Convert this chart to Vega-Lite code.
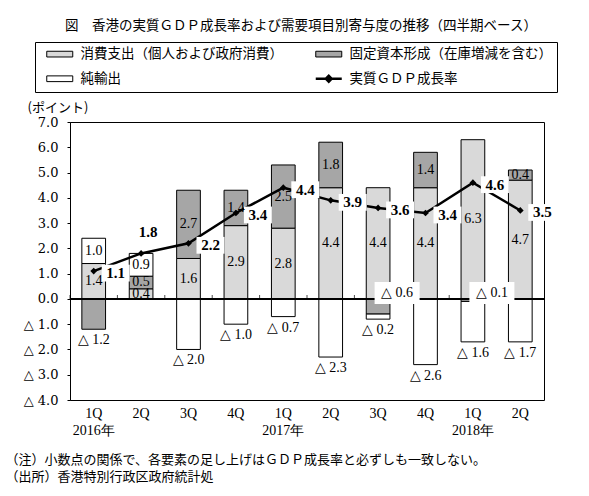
{
  "$schema": "https://vega.github.io/schema/vega-lite/v6.json",
  "width": 474,
  "height": 278,
  "autosize": "none",
  "padding": {"left": 70, "top": 122, "right": 45, "bottom": 96},
  "background": "white",
  "title": {
    "text": "図　香港の実質ＧＤＰ成長率および需要項目別寄与度の推移（四半期ベース）",
    "font": "Noto Sans CJK JP",
    "fontSize": 13.5,
    "fontWeight": "normal",
    "color": "black",
    "anchor": "middle",
    "dx": -6,
    "offset": 9
  },
  "config": {
    "view": {"stroke": "black", "strokeWidth": 1},
    "font": "Liberation Serif",
    "axisY": {
      "labelFont": "DejaVu Serif", "labelFontSize": 13, "labelColor": "black", "labelOverlap": false, "labelLimit": 300,
      "tickSize": 3, "tickColor": "black", "domainColor": "black", "labelPadding": 9, "grid": false
    }
  },
  "datasets": {
    "contrib": [
      {"period": "2016年 1Q", "series": "消費支出（個人および政府消費）", "value": 1.4},
      {"period": "2016年 1Q", "series": "固定資本形成（在庫増減を含む）", "value": -1.2},
      {"period": "2016年 1Q", "series": "純輸出", "value": 1.0},
      {"period": "2016年 2Q", "series": "消費支出（個人および政府消費）", "value": 0.4},
      {"period": "2016年 2Q", "series": "固定資本形成（在庫増減を含む）", "value": 0.5},
      {"period": "2016年 2Q", "series": "純輸出", "value": 0.9},
      {"period": "2016年 3Q", "series": "消費支出（個人および政府消費）", "value": 1.6},
      {"period": "2016年 3Q", "series": "固定資本形成（在庫増減を含む）", "value": 2.7},
      {"period": "2016年 3Q", "series": "純輸出", "value": -2.0},
      {"period": "2016年 4Q", "series": "消費支出（個人および政府消費）", "value": 2.9},
      {"period": "2016年 4Q", "series": "固定資本形成（在庫増減を含む）", "value": 1.4},
      {"period": "2016年 4Q", "series": "純輸出", "value": -1.0},
      {"period": "2017年 1Q", "series": "消費支出（個人および政府消費）", "value": 2.8},
      {"period": "2017年 1Q", "series": "固定資本形成（在庫増減を含む）", "value": 2.5},
      {"period": "2017年 1Q", "series": "純輸出", "value": -0.7},
      {"period": "2017年 2Q", "series": "消費支出（個人および政府消費）", "value": 4.4},
      {"period": "2017年 2Q", "series": "固定資本形成（在庫増減を含む）", "value": 1.8},
      {"period": "2017年 2Q", "series": "純輸出", "value": -2.3},
      {"period": "2017年 3Q", "series": "消費支出（個人および政府消費）", "value": 4.4},
      {"period": "2017年 3Q", "series": "固定資本形成（在庫増減を含む）", "value": -0.6},
      {"period": "2017年 3Q", "series": "純輸出", "value": -0.2},
      {"period": "2017年 4Q", "series": "消費支出（個人および政府消費）", "value": 4.4},
      {"period": "2017年 4Q", "series": "固定資本形成（在庫増減を含む）", "value": 1.4},
      {"period": "2017年 4Q", "series": "純輸出", "value": -2.6},
      {"period": "2018年 1Q", "series": "消費支出（個人および政府消費）", "value": 6.3},
      {"period": "2018年 1Q", "series": "固定資本形成（在庫増減を含む）", "value": -0.1},
      {"period": "2018年 1Q", "series": "純輸出", "value": -1.6},
      {"period": "2018年 2Q", "series": "消費支出（個人および政府消費）", "value": 4.7},
      {"period": "2018年 2Q", "series": "固定資本形成（在庫増減を含む）", "value": 0.4},
      {"period": "2018年 2Q", "series": "純輸出", "value": -1.7}
    ],
    "gdp": [
      {"period": "2016年 1Q", "gdp": 1.1},
      {"period": "2016年 2Q", "gdp": 1.8},
      {"period": "2016年 3Q", "gdp": 2.2},
      {"period": "2016年 4Q", "gdp": 3.4},
      {"period": "2017年 1Q", "gdp": 4.4},
      {"period": "2017年 2Q", "gdp": 3.9},
      {"period": "2017年 3Q", "gdp": 3.6},
      {"period": "2017年 4Q", "gdp": 3.4},
      {"period": "2018年 1Q", "gdp": 4.6},
      {"period": "2018年 2Q", "gdp": 3.5}
    ]
  },
  "layer": [
    {
      "data": {"name": "contrib"},
      "transform": [
        {"calculate": "indexof(['消費支出（個人および政府消費）','固定資本形成（在庫増減を含む）','純輸出'], datum.series)", "as": "ord"},
        {"stack": "value", "groupby": ["period"], "sort": [{"field": "ord", "order": "ascending"}], "as": ["v0", "v1"], "offset": "zero"}
      ],
      "mark": {"type": "bar", "stroke": "black", "strokeWidth": 1},
      "encoding": {
        "x": {
          "field": "period", "type": "nominal",
          "scale": {"domain": ["2016年 1Q","2016年 2Q","2016年 3Q","2016年 4Q","2017年 1Q","2017年 2Q","2017年 3Q","2017年 4Q","2018年 1Q","2018年 2Q"], "paddingInner": 0.5, "paddingOuter": 0.25},
          "axis": {
            "labelExpr": "indexof(datum.value, '1Q') >= 0 ? [slice(datum.value, 6), slice(datum.value, 0, 5)] : slice(datum.value, 6)",
            "labelFont": "Liberation Serif", "labelFontSize": 14, "labelColor": "black",
            "labelPadding": 6, "labelLineHeight": 17, "labelAngle": 0,
            "ticks": false, "domain": false, "grid": false,
            "title": ["（注）小数点の関係で、各要素の足し上げはＧＤＰ成長率と必ずしも一致しない。", "（出所）香港特別行政区政府統計処"],
            "titleFont": "Noto Sans CJK JP", "titleFontSize": 13, "titleFontWeight": "normal", "titleColor": "black",
            "titleAlign": "left", "titleAnchor": "start", "titleX": -65, "titleY": 53, "titleBaseline": "top", "titleLineHeight": 17
          }
        },
        "y": {
          "field": "v0", "type": "quantitative",
          "scale": {"domain": [-4, 7], "nice": false, "zero": false},
          "axis": {
            "title": "(ポイント)", "titleAngle": 0, "titleAlign": "left", "titleX": -43, "titleY": -15, "titleBaseline": "middle",
            "titleFont": "Noto Sans CJK JP", "titleFontSize": 13, "titleFontWeight": "normal", "titleColor": "black",
            "values": [-4, -3, -2, -1, 0, 1, 2, 3, 4, 5, 6, 7],
            "labelExpr": "datum.value < 0 ? '△ ' + format(-datum.value, '.1f') : format(datum.value, '.1f')"
          }
        },
        "y2": {"field": "v1"},
        "fill": {
          "field": "series", "type": "nominal",
          "scale": {"domain": ["消費支出（個人および政府消費）", "固定資本形成（在庫増減を含む）", "純輸出", "実質ＧＤＰ成長率"], "range": ["#d9d9d9", "#a6a6a6", "#ffffff", "#000000"]},
          "legend": {
            "orient": "none", "legendX": -35, "legendY": -80, "direction": "horizontal", "columns": 2,
            "title": null, "labelFont": "Noto Sans CJK JP", "labelFontSize": 13.5, "labelColor": "black",
            "symbolSize": 676, "symbolOffset": 13, "labelOffset": 14, "columnPadding": 26, "rowPadding": 9,
            "padding": 5, "strokeColor": "black", "fillColor": "white", "labelLimit": 400,
            "symbolStrokeColor": "black", "symbolStrokeWidth": 1,
            "encode": {
              "symbols": {
                "update": {
                  "shape": {"signal": "datum.value === '実質ＧＤＰ成長率' ? 'M-1,0H1M-0.22,0L0,-0.22L0.22,0L0,0.22Z' : 'M-1,-0.22H1V0.22H-1Z'"},
                  "strokeWidth": {"signal": "datum.value === '実質ＧＤＰ成長率' ? 2.5 : 1"},
                  "stroke": {"value": "black"}
                }
              }
            }
          }
        }
      }
    },
    {
      "data": {"name": "gdp"},
      "mark": {"type": "rule", "color": "black", "strokeWidth": 1},
      "encoding": {
        "y": {"datum": 0, "type": "quantitative", "scale": {"domain": [-4, 7], "nice": false, "zero": false},
          "axis": {"title": "(ポイント)", "titleAngle": 0, "titleAlign": "left", "titleX": -43, "titleY": -15, "titleBaseline": "middle", "titleFont": "Noto Sans CJK JP", "titleFontSize": 13, "titleFontWeight": "normal", "titleColor": "black", "values": [-4, -3, -2, -1, 0, 1, 2, 3, 4, 5, 6, 7], "labelExpr": "datum.value < 0 ? '△ ' + format(-datum.value, '.1f') : format(datum.value, '.1f')"}}
      }
    },
    {
      "data": {"name": "gdp"},
      "mark": {"type": "tick", "orient": "vertical", "color": "black", "size": 4, "thickness": 1, "xOffset": -11.85, "yOffset": -2},
      "encoding": {
        "x": {"field": "period", "type": "nominal", "bandPosition": 0, "scale": {"domain": ["2016年 1Q","2016年 2Q","2016年 3Q","2016年 4Q","2017年 1Q","2017年 2Q","2017年 3Q","2017年 4Q","2018年 1Q","2018年 2Q"], "paddingInner": 0.5, "paddingOuter": 0.25}},
        "y": {"datum": 0, "type": "quantitative", "scale": {"domain": [-4, 7], "nice": false, "zero": false},
          "axis": {"title": "(ポイント)", "titleAngle": 0, "titleAlign": "left", "titleX": -43, "titleY": -15, "titleBaseline": "middle", "titleFont": "Noto Sans CJK JP", "titleFontSize": 13, "titleFontWeight": "normal", "titleColor": "black", "values": [-4, -3, -2, -1, 0, 1, 2, 3, 4, 5, 6, 7], "labelExpr": "datum.value < 0 ? '△ ' + format(-datum.value, '.1f') : format(datum.value, '.1f')"}}
      }
    },
    {
      "data": {"name": "gdp"},
      "mark": {"type": "line", "color": "black", "strokeWidth": 2.5, "point": {"shape": "diamond", "filled": true, "fill": "black", "size": 45}},
      "encoding": {
        "x": {"field": "period", "type": "nominal", "scale": {"domain": ["2016年 1Q","2016年 2Q","2016年 3Q","2016年 4Q","2017年 1Q","2017年 2Q","2017年 3Q","2017年 4Q","2018年 1Q","2018年 2Q"], "paddingInner": 0.5, "paddingOuter": 0.25}},
        "y": {"field": "gdp", "type": "quantitative", "scale": {"domain": [-4, 7], "nice": false, "zero": false},
          "axis": {"title": "(ポイント)", "titleAngle": 0, "titleAlign": "left", "titleX": -43, "titleY": -15, "titleBaseline": "middle", "titleFont": "Noto Sans CJK JP", "titleFontSize": 13, "titleFontWeight": "normal", "titleColor": "black", "values": [-4, -3, -2, -1, 0, 1, 2, 3, 4, 5, 6, 7], "labelExpr": "datum.value < 0 ? '△ ' + format(-datum.value, '.1f') : format(datum.value, '.1f')"}}
      }
    },
    {
      "data": {"name": "gdp"},
      "transform": [{"filter": "datum.period != '2016年 2Q'"}],
      "mark": {"type": "point", "shape": "M-1,-0.6H1V0.6H-1Z", "size": 784, "filled": true, "fill": "white", "opacity": 1, "strokeWidth": 0, "xOffset": 22, "yOffset": 2},
      "encoding": {
        "x": {"field": "period", "type": "nominal", "scale": {"domain": ["2016年 1Q","2016年 2Q","2016年 3Q","2016年 4Q","2017年 1Q","2017年 2Q","2017年 3Q","2017年 4Q","2018年 1Q","2018年 2Q"], "paddingInner": 0.5, "paddingOuter": 0.25}},
        "y": {"field": "gdp", "type": "quantitative", "scale": {"domain": [-4, 7], "nice": false, "zero": false},
          "axis": {"title": "(ポイント)", "titleAngle": 0, "titleAlign": "left", "titleX": -43, "titleY": -15, "titleBaseline": "middle", "titleFont": "Noto Sans CJK JP", "titleFontSize": 13, "titleFontWeight": "normal", "titleColor": "black", "values": [-4, -3, -2, -1, 0, 1, 2, 3, 4, 5, 6, 7], "labelExpr": "datum.value < 0 ? '△ ' + format(-datum.value, '.1f') : format(datum.value, '.1f')"}}
      }
    },
    {
      "data": {"name": "gdp"},
      "transform": [{"filter": "datum.period != '2016年 2Q'"}],
      "mark": {"type": "text", "font": "Liberation Serif", "fontSize": 15, "fontWeight": "bold", "color": "black", "baseline": "middle", "align": "center", "xOffset": 22, "yOffset": 2},
      "encoding": {
        "x": {"field": "period", "type": "nominal", "scale": {"domain": ["2016年 1Q","2016年 2Q","2016年 3Q","2016年 4Q","2017年 1Q","2017年 2Q","2017年 3Q","2017年 4Q","2018年 1Q","2018年 2Q"], "paddingInner": 0.5, "paddingOuter": 0.25}},
        "y": {"field": "gdp", "type": "quantitative", "scale": {"domain": [-4, 7], "nice": false, "zero": false},
          "axis": {"title": "(ポイント)", "titleAngle": 0, "titleAlign": "left", "titleX": -43, "titleY": -15, "titleBaseline": "middle", "titleFont": "Noto Sans CJK JP", "titleFontSize": 13, "titleFontWeight": "normal", "titleColor": "black", "values": [-4, -3, -2, -1, 0, 1, 2, 3, 4, 5, 6, 7], "labelExpr": "datum.value < 0 ? '△ ' + format(-datum.value, '.1f') : format(datum.value, '.1f')"}},
        "text": {"field": "gdp", "type": "quantitative", "format": ".1f"}
      }
    },
    {
      "data": {"name": "gdp"},
      "transform": [{"filter": "datum.period == '2016年 2Q'"}],
      "mark": {"type": "text", "font": "Liberation Serif", "fontSize": 15, "fontWeight": "bold", "color": "black", "baseline": "middle", "align": "center", "xOffset": 7, "yOffset": -21},
      "encoding": {
        "x": {"field": "period", "type": "nominal", "scale": {"domain": ["2016年 1Q","2016年 2Q","2016年 3Q","2016年 4Q","2017年 1Q","2017年 2Q","2017年 3Q","2017年 4Q","2018年 1Q","2018年 2Q"], "paddingInner": 0.5, "paddingOuter": 0.25}},
        "y": {"field": "gdp", "type": "quantitative", "scale": {"domain": [-4, 7], "nice": false, "zero": false},
          "axis": {"title": "(ポイント)", "titleAngle": 0, "titleAlign": "left", "titleX": -43, "titleY": -15, "titleBaseline": "middle", "titleFont": "Noto Sans CJK JP", "titleFontSize": 13, "titleFontWeight": "normal", "titleColor": "black", "values": [-4, -3, -2, -1, 0, 1, 2, 3, 4, 5, 6, 7], "labelExpr": "datum.value < 0 ? '△ ' + format(-datum.value, '.1f') : format(datum.value, '.1f')"}},
        "text": {"field": "gdp", "type": "quantitative", "format": ".1f"}
      }
    },
    {
      "data": {"name": "contrib"},
      "transform": [
        {"calculate": "indexof(['消費支出（個人および政府消費）','固定資本形成（在庫増減を含む）','純輸出'], datum.series)", "as": "ord"},
        {"stack": "value", "groupby": ["period"], "sort": [{"field": "ord", "order": "ascending"}], "as": ["v0", "v1"], "offset": "zero"},
        {"joinaggregate": [{"op": "min", "field": "v1", "as": "bottom"}], "groupby": ["period"]},
        {"calculate": "(datum.v0 + datum.v1) / 2", "as": "mid"},
        {"calculate": "datum.value < 0 ? '△ ' + format(-datum.value, '.1f') : format(datum.value, '.1f')", "as": "lab"},
        {"calculate": "datum.value >= 0 ? 'in' : (datum.v1 == datum.bottom ? 'below' : 'above')", "as": "pos"}
      ],
      "layer": [
        {
          "transform": [{"filter": "datum.pos == 'in'"}],
          "mark": {"type": "text", "font": "Liberation Serif", "fontSize": 14, "color": "black", "baseline": "middle", "align": "center"},
          "encoding": {
            "x": {"field": "period", "type": "nominal", "scale": {"domain": ["2016年 1Q","2016年 2Q","2016年 3Q","2016年 4Q","2017年 1Q","2017年 2Q","2017年 3Q","2017年 4Q","2018年 1Q","2018年 2Q"], "paddingInner": 0.5, "paddingOuter": 0.25}},
            "y": {"field": "mid", "type": "quantitative", "scale": {"domain": [-4, 7], "nice": false, "zero": false},
              "axis": {"title": "(ポイント)", "titleAngle": 0, "titleAlign": "left", "titleX": -43, "titleY": -15, "titleBaseline": "middle", "titleFont": "Noto Sans CJK JP", "titleFontSize": 13, "titleFontWeight": "normal", "titleColor": "black", "values": [-4, -3, -2, -1, 0, 1, 2, 3, 4, 5, 6, 7], "labelExpr": "datum.value < 0 ? '△ ' + format(-datum.value, '.1f') : format(datum.value, '.1f')"}},
            "text": {"field": "lab"}
          }
        },
        {
          "transform": [{"filter": "datum.pos == 'below'"}],
          "mark": {"type": "text", "font": "Liberation Serif", "fontSize": 14, "color": "black", "baseline": "middle", "align": "center", "yOffset": 11},
          "encoding": {
            "x": {"field": "period", "type": "nominal", "scale": {"domain": ["2016年 1Q","2016年 2Q","2016年 3Q","2016年 4Q","2017年 1Q","2017年 2Q","2017年 3Q","2017年 4Q","2018年 1Q","2018年 2Q"], "paddingInner": 0.5, "paddingOuter": 0.25}},
            "y": {"field": "v1", "type": "quantitative", "scale": {"domain": [-4, 7], "nice": false, "zero": false},
              "axis": {"title": "(ポイント)", "titleAngle": 0, "titleAlign": "left", "titleX": -43, "titleY": -15, "titleBaseline": "middle", "titleFont": "Noto Sans CJK JP", "titleFontSize": 13, "titleFontWeight": "normal", "titleColor": "black", "values": [-4, -3, -2, -1, 0, 1, 2, 3, 4, 5, 6, 7], "labelExpr": "datum.value < 0 ? '△ ' + format(-datum.value, '.1f') : format(datum.value, '.1f')"}},
            "text": {"field": "lab"}
          }
        },
        {
          "transform": [{"filter": "datum.pos == 'above'"}],
          "mark": {"type": "point", "shape": "M-1,-0.49H1V0.49H-1Z", "size": 2025, "filled": true, "fill": "white", "opacity": 1, "strokeWidth": 0, "xOffset": 19, "yOffset": -6},
          "encoding": {
            "x": {"field": "period", "type": "nominal", "scale": {"domain": ["2016年 1Q","2016年 2Q","2016年 3Q","2016年 4Q","2017年 1Q","2017年 2Q","2017年 3Q","2017年 4Q","2018年 1Q","2018年 2Q"], "paddingInner": 0.5, "paddingOuter": 0.25}},
            "y": {"datum": 0, "type": "quantitative", "scale": {"domain": [-4, 7], "nice": false, "zero": false},
              "axis": {"title": "(ポイント)", "titleAngle": 0, "titleAlign": "left", "titleX": -43, "titleY": -15, "titleBaseline": "middle", "titleFont": "Noto Sans CJK JP", "titleFontSize": 13, "titleFontWeight": "normal", "titleColor": "black", "values": [-4, -3, -2, -1, 0, 1, 2, 3, 4, 5, 6, 7], "labelExpr": "datum.value < 0 ? '△ ' + format(-datum.value, '.1f') : format(datum.value, '.1f')"}}
          }
        },
        {
          "transform": [{"filter": "datum.pos == 'above'"}],
          "mark": {"type": "text", "font": "Liberation Serif", "fontSize": 14, "color": "black", "baseline": "middle", "align": "center", "xOffset": 19, "yOffset": -6},
          "encoding": {
            "x": {"field": "period", "type": "nominal", "scale": {"domain": ["2016年 1Q","2016年 2Q","2016年 3Q","2016年 4Q","2017年 1Q","2017年 2Q","2017年 3Q","2017年 4Q","2018年 1Q","2018年 2Q"], "paddingInner": 0.5, "paddingOuter": 0.25}},
            "y": {"datum": 0, "type": "quantitative", "scale": {"domain": [-4, 7], "nice": false, "zero": false},
              "axis": {"title": "(ポイント)", "titleAngle": 0, "titleAlign": "left", "titleX": -43, "titleY": -15, "titleBaseline": "middle", "titleFont": "Noto Sans CJK JP", "titleFontSize": 13, "titleFontWeight": "normal", "titleColor": "black", "values": [-4, -3, -2, -1, 0, 1, 2, 3, 4, 5, 6, 7], "labelExpr": "datum.value < 0 ? '△ ' + format(-datum.value, '.1f') : format(datum.value, '.1f')"}},
            "text": {"field": "lab"}
          }
        }
      ]
    }
  ]
}
